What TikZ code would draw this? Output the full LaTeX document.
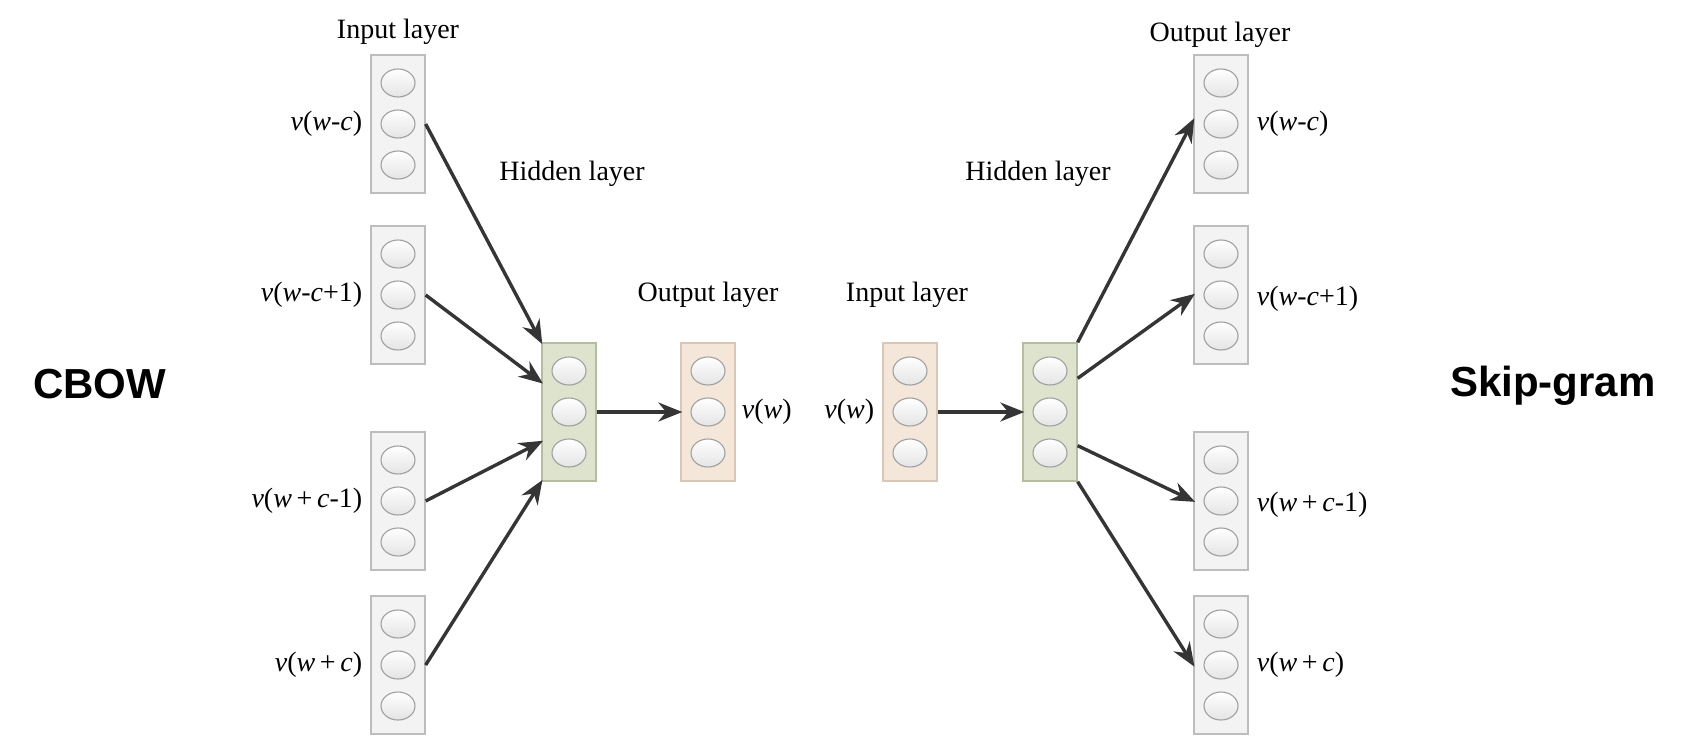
\documentclass[tikz,border=0pt]{standalone}
\usepackage{fontspec}
\setmainfont{Liberation Serif}
\newfontfamily\hvfont{Liberation Sans}
\usetikzlibrary{shapes.geometric,arrows.meta,calc}
\definecolor{grayfill}{HTML}{F3F3F3}
\definecolor{graydraw}{HTML}{BDBDBD}
\definecolor{greenfill}{HTML}{DDE3CC}
\definecolor{greendraw}{HTML}{B5BDA0}
\definecolor{peachfill}{HTML}{F5E6DA}
\definecolor{peachdraw}{HTML}{D9C6B6}
\definecolor{unitdraw}{HTML}{A0A0A0}
\definecolor{unitfill}{HTML}{E4E4E4}
\definecolor{arrowc}{HTML}{353535}
\tikzset{
  layerbox/.style={rectangle, line width=1.3pt, minimum width=54pt, minimum height=138pt, inner sep=0pt},
  graybox/.style={layerbox, draw=graydraw, fill=grayfill},
  greenbox/.style={layerbox, draw=greendraw, fill=greenfill},
  peachbox/.style={layerbox, draw=peachdraw, fill=peachfill},
  unit/.style={ellipse, draw=unitdraw, line width=1.1pt, minimum width=34pt, minimum height=28pt, inner sep=0pt, top color=white, bottom color=unitfill},
  lbl/.style={font=\fontsize{28}{31}\selectfont, inner sep=0pt},
  big/.style={font=\hvfont\bfseries\fontsize{42}{46}\selectfont, inner sep=0pt},
  conn/.style={-{Stealth[length=24pt,width=19pt]}, line width=3.4pt, draw=arrowc, shorten >=-2pt},
}
\newcommand\mklayer[4]{%
  \node[#4] (#1) at (#2,#3) {};
  \node[unit] (#1-1) at ({#2},{#3-41}) {};
  \node[unit] (#1-2) at ({#2},{#3}) {};
  \node[unit] (#1-3) at ({#2},{#3+41}) {};
}
\begin{document}
\begin{tikzpicture}[x=1pt,y=-1pt]
\useasboundingbox (0,0) rectangle (1708,750);
\fill[white] (0,0) rectangle (1708,750);

% CBOW
\mklayer{ci1}{398}{124}{graybox}
\mklayer{ci2}{398}{295}{graybox}
\mklayer{ci3}{398}{501}{graybox}
\mklayer{ci4}{398}{665}{graybox}
\mklayer{ch}{569}{412}{greenbox}
\mklayer{co}{708}{412}{peachbox}

% Skip-gram
\mklayer{si}{910}{412}{peachbox}
\mklayer{sh}{1050}{412}{greenbox}
\mklayer{so1}{1221}{124}{graybox}
\mklayer{so2}{1221}{295}{graybox}
\mklayer{so3}{1221}{501}{graybox}
\mklayer{so4}{1221}{665}{graybox}

% titles
\node[lbl] (tin) at (398,32) {Input layer};
\node[lbl] (thid) at (572,174) {Hidden layer};
\node[lbl] (tout) at (708,295) {Output layer};
\node[lbl] (tsin) at (907,295) {Input layer};
\node[lbl] (tshid) at (1038,174) {Hidden layer};
\node[lbl] (tsout) at (1220,35) {Output layer};

% word labels CBOW
\node[lbl, anchor=east] (l1) at ($(ci1.west |- ci1-2)+(-8,0)$) {\textit{v}(\textit{w}-\textit{c})};
\node[lbl, anchor=east] (l2) at ($(ci2.west |- ci2-2)+(-8,0)$) {\textit{v}(\textit{w}-\textit{c}+1)};
\node[lbl, anchor=east] (l3) at ($(ci3.west |- ci3-2)+(-8,0)$) {\textit{v}(\textit{w}\,+\,\textit{c}-1)};
\node[lbl, anchor=east] (l4) at ($(ci4.west |- ci4-2)+(-8,0)$) {\textit{v}(\textit{w}\,+\,\textit{c})};
\node[lbl, anchor=west] (lco) at ($(co.east |- co-2)+(6,0)$) {\textit{v}(\textit{w})};

% word labels Skip-gram
\node[lbl, anchor=east] (lsi) at ($(si.west |- si-2)+(-8,0)$) {\textit{v}(\textit{w})};
\node[lbl, anchor=west] (r1) at ($(so1.east |- so1-2)+(8,0)$) {\textit{v}(\textit{w}-\textit{c})};
\node[lbl, anchor=west] (r2) at ($(so2.east |- so2-2)+(8,4)$) {\textit{v}(\textit{w}-\textit{c}+1)};
\node[lbl, anchor=west] (r3) at ($(so3.east |- so3-2)+(8,4)$) {\textit{v}(\textit{w}\,+\,\textit{c}-1)};
\node[lbl, anchor=west] (r4) at ($(so4.east |- so4-2)+(8,0)$) {\textit{v}(\textit{w}\,+\,\textit{c})};

% big titles
\node[big, anchor=base west] (cbow) at (33,398) {CBOW};
\node[big, anchor=base west] (skip) at (1450,396) {Skip-gram};

% CBOW connectors
\draw[conn] (ci1.east |- ci1-2) -- (ch.north west);
\draw[conn] (ci2.east |- ci2-2) -- ([yshift=-40pt]ch.north west);
\draw[conn] (ci3.east |- ci3-2) -- ([yshift=40pt]ch.south west);
\draw[conn] (ci4.east |- ci4-2) -- (ch.south west);
\draw[conn] (ch.east |- ch-2) -- (co.west |- co-2);

% Skip-gram connectors
\draw[conn] (si.east |- si-2) -- (sh.west |- sh-2);
\draw[conn] (sh.north east) -- ([yshift=4pt]so1.west |- so1-2);
\draw[conn] ([yshift=-36pt]sh.north east) -- (so2.west |- so2-2);
\draw[conn] ([yshift=36pt]sh.south east) -- (so3.west |- so3-2);
\draw[conn] (sh.south east) -- (so4.west |- so4-2);
\end{tikzpicture}
\end{document}
